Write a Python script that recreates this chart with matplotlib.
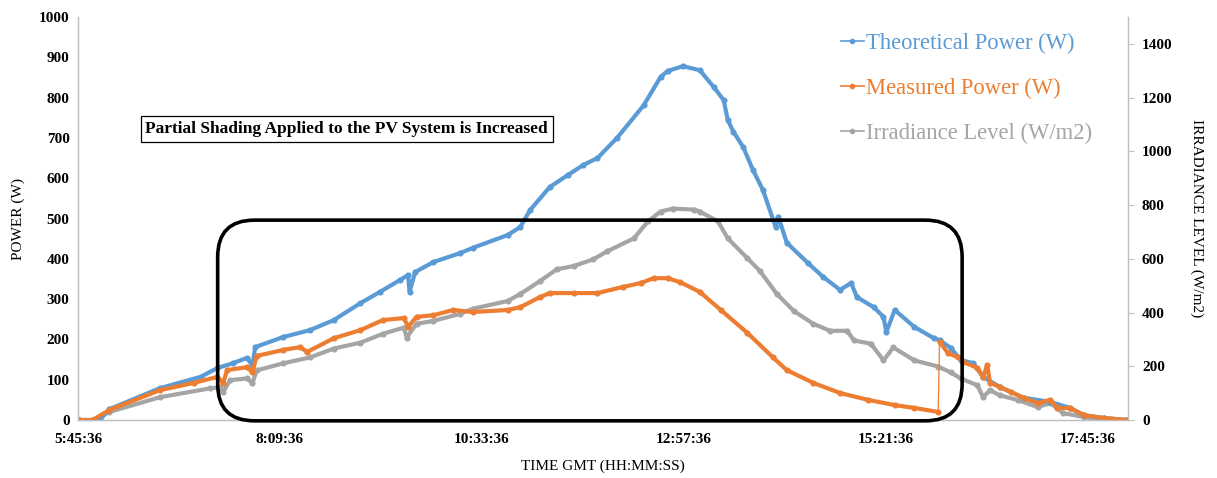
import matplotlib
matplotlib.use("Agg")
import matplotlib.pyplot as plt
from matplotlib.patches import FancyBboxPatch
from matplotlib.lines import Line2D

plt.rcParams['font.family'] = ['Liberation Serif', 'DejaVu Serif']

# Theoretical power (W)
theo_time = ["5:46", "6:01", "6:08", "6:44", "7:13", "7:25", "7:36", "7:46", "7:50", "7:52",
             "8:12", "8:31", "8:48", "9:07", "9:21", "9:35", "9:41", "9:42", "9:46", "9:59",
             "10:18", "10:27", "10:52", "11:01", "11:08", "11:22", "11:35", "11:46", "11:56", "12:10",
             "12:29", "12:41", "12:46", "12:57", "13:09", "13:19", "13:26", "13:29", "13:33", "13:40",
             "13:47", "13:54", "14:03", "14:05", "14:11", "14:26", "14:37", "14:49", "14:57", "15:01",
             "15:13", "15:20", "15:22", "15:28", "15:42", "15:56", "16:00", "16:08", "16:15", "16:24",
             "16:31", "16:43", "17:00", "17:19", "17:33", "17:43", "17:57", "18:14"]
theo_power = [0, 0, 27, 79, 107, 129, 141, 154, 136, 181,
              206, 223, 248, 290, 318, 347, 360, 318, 367, 392,
              414, 427, 459, 479, 521, 578, 608, 633, 650, 700,
              781, 851, 866, 878, 868, 826, 794, 744, 715, 677,
              620, 571, 480, 505, 440, 390, 355, 323, 340, 305,
              280, 256, 218, 273, 231, 203, 198, 179, 149, 141,
              107, 82, 55, 45, 30, 12, 5, 0]

# Measured power (W)
meas_time = ["5:46", "5:56", "6:08", "6:44", "7:08", "7:25", "7:29", "7:32", "7:46", "7:50",
             "7:53", "8:12", "8:24", "8:29", "8:48", "9:07", "9:23", "9:38", "9:41", "9:47",
             "9:59", "10:13", "10:27", "10:52", "11:01", "11:15", "11:22", "11:39", "11:56", "12:14",
             "12:27", "12:36", "12:46", "12:55", "13:09", "13:24", "13:43", "14:01", "14:11", "14:30",
             "14:49", "15:09", "15:28", "15:42", "15:59", "16:00", "16:06", "16:13", "16:17", "16:27",
             "16:31", "16:34", "16:36", "16:43", "16:51", "17:00", "17:10", "17:19", "17:24", "17:33",
             "17:43", "17:57", "18:14"]
meas_power = [0, 0, 25, 74, 92, 107, 92, 124, 131, 119,
              159, 174, 181, 169, 203, 223, 248, 253, 231, 256,
              260, 273, 268, 273, 280, 305, 315, 315, 315, 330,
              340, 352, 352, 342, 318, 273, 216, 156, 124, 92,
              67, 50, 37, 30, 20, 194, 166, 156, 144, 129,
              107, 136, 92, 82, 69, 55, 42, 50, 30, 30,
              12, 5, 0]

# Irradiance level (W/m2)
irr_time = ["5:46", "5:56", "6:08", "6:44", "7:20", "7:27", "7:29", "7:34", "7:46", "7:50",
            "7:53", "8:12", "8:31", "8:48", "9:07", "9:23", "9:38", "9:40", "9:47", "9:59",
            "10:18", "10:27", "10:52", "11:01", "11:15", "11:27", "11:39", "11:53", "12:03", "12:22",
            "12:32", "12:41", "12:50", "13:05", "13:09", "13:22", "13:29", "13:43", "13:52", "14:04",
            "14:16", "14:30", "14:42", "14:54", "14:59", "15:11", "15:20", "15:27", "15:42", "15:59",
            "16:08", "16:15", "16:27", "16:31", "16:36", "16:43", "16:56", "17:10", "17:19", "17:28",
            "17:43", "17:57", "18:14"]
irr_level = [0, 0, 30, 85, 118, 122, 103, 148, 155, 137,
             185, 211, 233, 266, 288, 321, 344, 307, 358, 369,
             395, 414, 443, 469, 517, 561, 573, 598, 628, 676,
             739, 776, 787, 783, 776, 739, 676, 602, 554, 469,
             406, 358, 332, 332, 296, 284, 222, 270, 222, 199,
             177, 155, 129, 85, 111, 92, 74, 48, 63, 26,
             11, 0, 0]

tick_labels = ["5:45:36", "8:09:36", "10:33:36", "12:57:36", "15:21:36", "17:45:36"]

BLUE = "#5B9BD5"
ORANGE = "#ED7D31"
GRAY = "#A5A5A5"
AXIS = "#BFBFBF"


def to_hours(t):
    h, m = t.split(":")
    return int(h) + int(m) / 60.0


tx = [to_hours(t) for t in theo_time]
mx = [to_hours(t) for t in meas_time]
ix = [to_hours(t) for t in irr_time]

fig = plt.figure(figsize=(12.17, 4.78), dpi=100)
ax = fig.add_axes([0.0641, 0.1213, 0.8628, 0.8431])
ax2 = ax.twinx()

style = dict(lw=3.0, marker="o", markersize=3.4, solid_capstyle="round",
             solid_joinstyle="round")

ax2.plot(ix, irr_level, color=GRAY, **style)
ax.plot(tx, theo_power, color=BLUE, **style)

# measured power: the sudden rise at 16:00 is a thin connector in the original
j = meas_power.index(20) + 1
ax.plot(mx[:j], meas_power[:j], color=ORANGE, **style)
ax.plot(mx[j - 1:j + 1], meas_power[j - 1:j + 1], color=ORANGE, lw=0.9)
ax.plot(mx[j:], meas_power[j:], color=ORANGE, **style)

# keep power series above the irradiance curve
ax.set_zorder(ax2.get_zorder() + 1)
ax.patch.set_visible(False)

ax.set_xlim(5.76, 18.24)
ax.set_ylim(0, 1000)
ax2.set_ylim(0, 1500)

ticks = [5.76 + 2.4 * k for k in range(len(tick_labels))]
ax.set_xticks(ticks)
ax.set_xticklabels(tick_labels)
ax.set_yticks(range(0, 1001, 100))
ax2.set_yticks(range(0, 1401, 200))

for a in (ax, ax2):
    for s in a.spines.values():
        s.set_color(AXIS)
        s.set_linewidth(0.9)
    a.spines["top"].set_visible(False)

ax.tick_params(axis="both", length=0, labelsize=11, pad=6)
ax.tick_params(axis="x", pad=9)
ax2.tick_params(axis="y", length=4, color=AXIS, labelsize=11, pad=6)
for lab in ax.get_xticklabels() + ax.get_yticklabels() + ax2.get_yticklabels():
    lab.set_fontweight("bold")

ax.set_xlabel("TIME GMT (HH:MM:SS)", fontsize=11, labelpad=10)
ax.set_ylabel("POWER (W)", fontsize=11, labelpad=10)
ax2.set_ylabel("IRRADIANCE LEVEL (W/m2)", fontsize=11, rotation=-90, labelpad=22)

# rounded box around the shaded period
box = FancyBboxPatch((0.133, -0.002), 0.709, 0.498, transform=ax.transAxes,
                     boxstyle="round,pad=0,rounding_size=0.035",
                     mutation_aspect=1050 / 403, fill=False, edgecolor="black",
                     lw=2.6, clip_on=False, zorder=10)
ax.add_patch(box)

ax.text(0.256, 0.722, "Partial Shading Applied to the PV System is Increased",
        transform=ax.transAxes, ha="center", va="center", fontsize=12.5,
        fontweight="bold",
        bbox=dict(boxstyle="square,pad=0.28", fc="white", ec="black", lw=0.9))

handles = [Line2D([], [], color=c, lw=1.2, marker="o", markersize=3)
           for c in (BLUE, ORANGE, GRAY)]
leg = ax.legend(handles, ["Theoretical Power (W)", "Measured Power (W)",
                          "Irradiance Level (W/m2)"],
                loc="upper right", bbox_to_anchor=(0.985, 1.012), frameon=False,
                fontsize=16.3, handlelength=1.0, handletextpad=0.1,
                labelspacing=1.05)
for txt, c in zip(leg.get_texts(), (BLUE, ORANGE, GRAY)):
    txt.set_color(c)

fig.savefig("out.png", dpi=100)
